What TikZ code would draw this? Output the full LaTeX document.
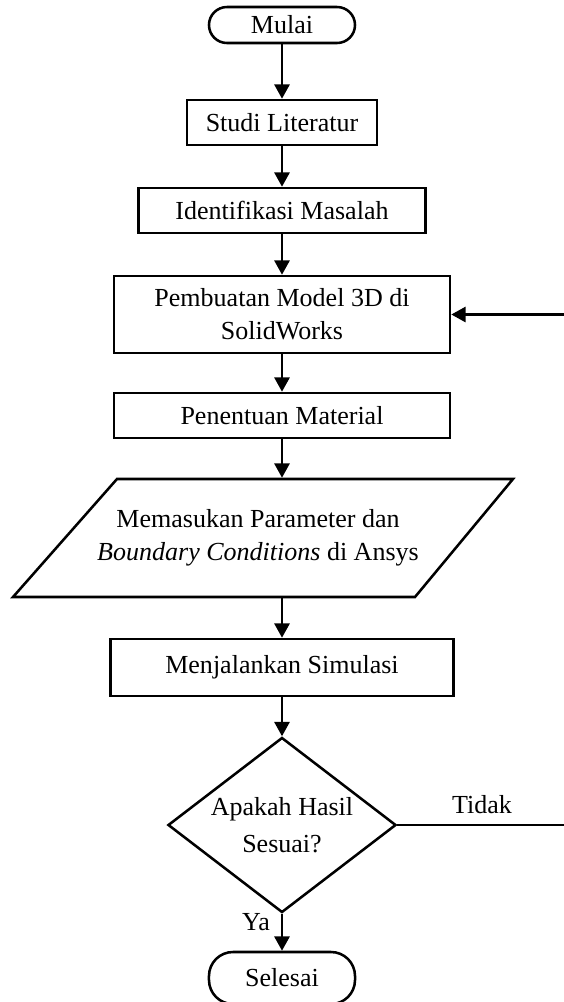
\documentclass[tikz,border=0pt]{standalone}
\usepackage{fontspec}
\setmainfont{Liberation Serif}
\usetikzlibrary{shapes.geometric,arrows.meta}
\begin{document}
\begin{tikzpicture}[x=0.025cm,y=-0.025cm,line width=1.8pt,
  font=\fontsize{18.5}{23.5}\selectfont,
  proc/.style={draw,rectangle,align=center,minimum height=1.125cm,inner sep=2pt},
  term/.style={draw,rectangle,rounded corners=0.45cm,minimum width=3.65cm,minimum height=0.9cm},
  arr/.style={-{Triangle[length=0.36cm,width=0.38cm]}}]
\useasboundingbox (0,0) rectangle (564,1002);
\node[term] (mulai) at (282,25) {Mulai};
\node[proc,minimum width=4.75cm] (studi) at (282,122.5) {Studi Literatur};
\node[proc,minimum width=7.175cm] (iden) at (282,210.5) {Identifikasi Masalah};
\node[proc,minimum width=8.4cm,minimum height=1.925cm] (model) at (282,314.5) {Pembuatan Model 3D di\\SolidWorks};
\node[proc,minimum width=8.4cm] (mat) at (282,415.5) {Penentuan Material};
\draw (117,479) -- (513,479) -- (415,597) -- (13,597) -- cycle;
\node[align=center,minimum height=2.95cm] (param) at (258,538) {Memasukan Parameter dan\\\textit{Boundary Conditions} di Ansys};
\node[proc,minimum width=8.575cm,minimum height=1.425cm] (sim) at (282,667.5) {Menjalankan Simulasi};
\node[draw,diamond,aspect=1.3,inner sep=0pt,minimum width=5.7cm,minimum height=4.375cm,align=center,
  font=\fontsize{18.5}{26}\selectfont] (cek) at (282,825) {Apakah Hasil\\Sesuai?};
\node[term,minimum height=1.3cm,rounded corners=0.6cm] (selesai) at (282,978) {Selesai};
\foreach \a/\b in {mulai/studi,studi/iden,iden/model,model/mat,sim/cek,cek/selesai}
  \draw[arr] (\a) -- (\b);
\draw[arr] (mat) -- (mat |- param.north);
\draw[arr] (param.south -| sim) -- (sim);
% jalur kembali jika hasil tidak sesuai
\coordinate (kanan) at (564,825);
\coordinate (balik) at (564,314.5);
\draw (cek.east) -- (kanan);
\draw[arr] (balik) -- (model.east);
\node (tidak) at (482,805) {Tidak};
\node (ya) at (256,922) {Ya};
\end{tikzpicture}
\end{document}
